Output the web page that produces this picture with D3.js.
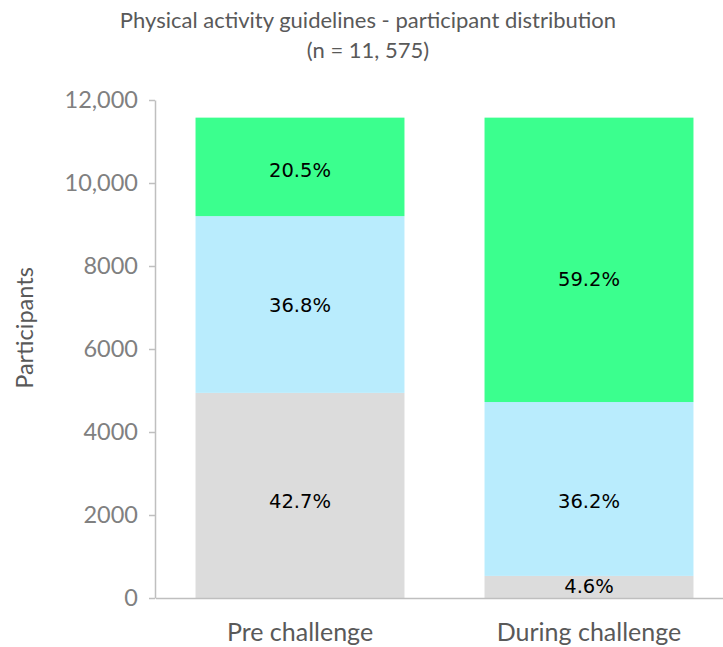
<!DOCTYPE html>
<html>
<head>
<meta charset="utf-8">
<script src="https://cdn.jsdelivr.net/npm/d3@7"></script>
<style>
  html, body { margin: 0; padding: 0; background: #fff; }
  svg { display: block; }
</style>
</head>
<body>
<svg id="chart" width="723" height="647"></svg>
<script>
// ---- data ----
const titleLines = ["Physical activity guidelines - participant distribution", "(n = 11, 575)"];
const totalN = 11575;
const categories = ["Pre challenge", "During challenge"];
const seriesNames = ["Not meeting", "Partially meeting", "Meeting"];
const seriesColors = ["#DCDCDC", "#B9ECFD", "#3BFF8E"];
const notMeetingPct = [42.7, 4.6];
const partiallyPct = [36.8, 36.2];
const meetingPct = [20.5, 59.2];
const yTicks = [0, 2000, 4000, 6000, 8000, 10000, 12000];
const yTickLabels = ["0", "2000", "4000", "6000", "8000", "10,000", "12,000"];
const yLabel = "Participants";

// ---- build table ----
const pctSeries = [notMeetingPct, partiallyPct, meetingPct];
const rows = categories.map((c, i) => {
  const r = { category: c };
  seriesNames.forEach((s, k) => { r[s] = pctSeries[k][i] * totalN / 100; r[s + "_pct"] = pctSeries[k][i]; });
  return r;
});

const svg = d3.select("#chart");
const x = d3.scaleBand().domain(categories).range([155.5, 733.5]).paddingInner(0.277).paddingOuter(0.1385);
const y = d3.scaleLinear().domain([0, 12000]).range([598, 100]);

const stacked = d3.stack().keys(seriesNames)(rows);

// bars
const g = svg.append("g");
stacked.forEach((layer, k) => {
  g.selectAll(null).data(layer).enter().append("rect")
    .attr("x", d => x(d.data.category))
    .attr("width", x.bandwidth())
    .attr("y", d => y(d[1]))
    .attr("height", d => y(d[0]) - y(d[1]))
    .attr("fill", seriesColors[k]);
});

// data labels (small vertical nudges, as placed in the original)
const labelNudge = [[6, -1], [0, 12], [3, 19]];
stacked.forEach((layer, k) => {
  g.selectAll(null).data(layer).enter().append("text")
    .attr("x", d => x(d.data.category) + x.bandwidth() / 2)
    .attr("y", (d, i) => (y(d[0]) + y(d[1])) / 2 + labelNudge[k][i])
    .attr("dy", "0.36em")
    .attr("text-anchor", "middle")
    .style("font-family", "'DejaVu Sans', Verdana, sans-serif")
    .style("font-size", "19.5px")
    .attr("fill", "#000")
    .text(d => d3.format(".1f")(d.data[seriesNames[k] + "_pct"]) + "%");
});

// y axis
const yAxis = d3.axisLeft(y).tickValues(yTicks)
  .tickFormat((d, i) => yTickLabels[i]).tickSize(6).tickPadding(11).tickSizeOuter(0);
const yg = svg.append("g").attr("transform", "translate(155,0)").call(yAxis);
yg.select(".domain").attr("stroke", "#BFBFBF").attr("stroke-width", 1.5);
yg.selectAll(".tick line").attr("stroke", "#BFBFBF").attr("stroke-width", 1.5);
yg.selectAll(".tick text")
  .style("font-family", "Lato, 'Open Sans', sans-serif")
  .style("font-size", "23.5px")
  .attr("fill", "#808080");

// x axis
const xAxis = d3.axisBottom(x).tickSize(0).tickPadding(43).tickSizeOuter(0);
const xg = svg.append("g").attr("transform", "translate(0,598)").call(xAxis);
xg.select(".domain").attr("stroke", "#BFBFBF").attr("stroke-width", 1.5);
xg.selectAll(".tick text")
  .attr("dy", 0)
  .style("font-family", "Lato, 'Open Sans', sans-serif")
  .style("font-size", "25px")
  .attr("fill", "#595959");

// y label
svg.append("text")
  .attr("transform", "translate(33,328) rotate(-90)")
  .attr("text-anchor", "middle")
  .style("font-family", "Lato, 'Open Sans', sans-serif")
  .style("font-size", "23.5px")
  .attr("fill", "#595959")
  .text(yLabel);

// title
svg.append("g").selectAll("text").data(titleLines).enter().append("text")
  .attr("x", 368)
  .attr("y", (d, i) => 28 + i * 30)
  .attr("text-anchor", "middle")
  .style("font-family", "Lato, 'Open Sans', sans-serif")
  .style("font-size", "22px")
  .attr("fill", "#595959")
  .text(d => d);
</script>
</body>
</html>
